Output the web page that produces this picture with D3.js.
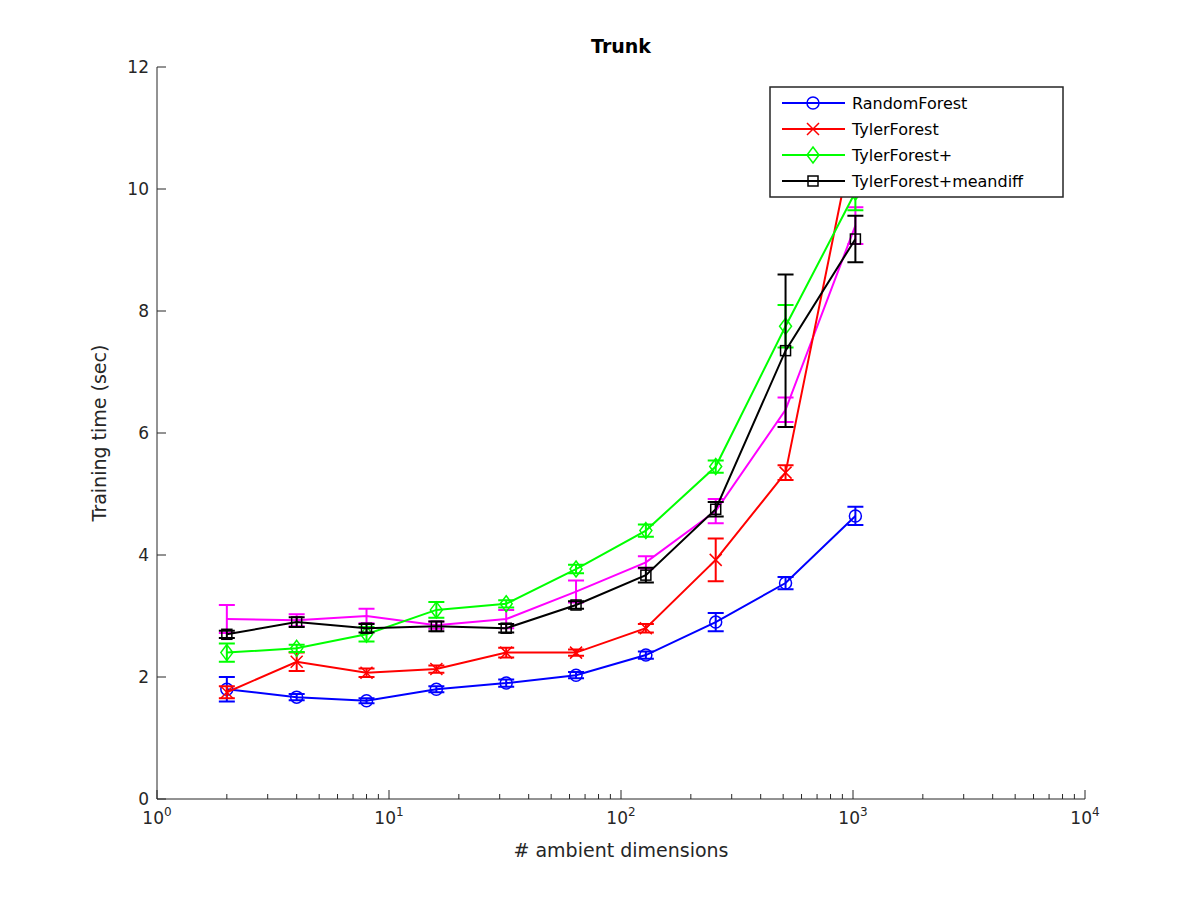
<!DOCTYPE html><html><head><meta charset="utf-8"><script src="https://cdn.jsdelivr.net/npm/d3@7"></script>
<style>body{margin:0;background:#fff}text{font-family:"DejaVu Sans",sans-serif;fill:#262626}</style></head><body><svg id="c" width="1200" height="900"></svg>
<script>
const dims=[2,4,8,16,32,64,128,256,512,1024];
const rfMean=[1.80,1.67,1.61,1.80,1.90,2.03,2.36,2.90,3.54,4.64];
const rfErr=[0.2,0.05,0.04,0.05,0.06,0.05,0.06,0.15,0.1,0.15];
const tfMean=[1.75,2.25,2.07,2.13,2.40,2.40,2.80,3.92,5.35,11.0];
const tfErr=[0.1,0.15,0.07,0.06,0.08,0.05,0.07,0.35,0.12,0.4];
const tfpMean=[2.40,2.47,2.70,3.10,3.20,3.77,4.40,5.45,7.75,9.95];
const tfpErr=[0.15,0.06,0.12,0.13,0.06,0.07,0.1,0.1,0.35,0.3];
const tfmMean=[2.70,2.90,2.80,2.83,2.80,3.18,3.67,4.75,7.35,9.18];
const tfmErr=[0.06,0.08,0.07,0.08,0.07,0.06,0.12,0.12,1.25,0.38];
const magMean=[2.95,2.93,3.00,2.85,2.95,3.40,3.88,4.72,6.38,9.40];
const magErr=[0.23,0.1,0.12,0.06,0.15,0.18,0.1,0.2,0.2,0.3];
const xTicks=[1,10,100,1000,10000];
const yTicks=[0,2,4,6,8,10,12];
const series=[
 {name:"RandomForest",color:"#0000ff",m:rfMean,e:rfErr,mk:"o"},
 {name:"TylerForest",color:"#ff0000",m:tfMean,e:tfErr,mk:"x"},
 {name:"TylerForest+",color:"#00ff00",m:tfpMean,e:tfpErr,mk:"d"},
 {name:"TylerForest+meandiff",color:"#000000",m:tfmMean,e:tfmErr,mk:"s"},
 {name:null,color:"#ff00ff",m:magMean,e:magErr,mk:null}];
const L=157,R=1085,T=67,B=799;
const svg=d3.select("#c");
const x=d3.scaleLog().domain([1,10000]).range([L,R]);
const y=d3.scaleLinear().domain([0,12]).range([B,T]);
svg.append("defs").append("clipPath").attr("id","clp").append("rect").attr("x",L).attr("y",T).attr("width",R-L).attr("height",B-T);
// axes
const ax=svg.append("g").attr("stroke","#262626").attr("stroke-width",1);
ax.append("line").attr("x1",L).attr("x2",R).attr("y1",B).attr("y2",B);
ax.append("line").attr("x1",L).attr("x2",L).attr("y1",T).attr("y2",B);
for(let d=1;d<10000;d*=10)for(let k=1;k<10;k++){const v=d*k;const len=k==1?9:5;
 ax.append("line").attr("x1",x(v)).attr("x2",x(v)).attr("y1",B).attr("y2",B-len);}
ax.append("line").attr("x1",R).attr("x2",R).attr("y1",B).attr("y2",B-9);
yTicks.forEach(t=>ax.append("line").attr("x1",L).attr("x2",L+9).attr("y1",y(t)).attr("y2",y(t)));
yTicks.forEach(t=>svg.append("text").attr("x",L-8).attr("y",y(t)+6).attr("text-anchor","end").attr("font-size",17).text(t));
xTicks.forEach(t=>{const e=Math.round(Math.log10(t));const g=svg.append("text").attr("x",x(t)).attr("y",B+25).attr("text-anchor","middle").attr("font-size",17);
 g.append("tspan").text("10");g.append("tspan").attr("dy",-8).attr("font-size",12).text(e);});
svg.append("text").attr("x",(L+R)/2).attr("y",B+58).attr("text-anchor","middle").attr("font-size",19).text("# ambient dimensions");
svg.append("text").attr("transform",`translate(106,${(T+B)/2}) rotate(-90)`).attr("text-anchor","middle").attr("font-size",19).text("Training time (sec)");
svg.append("text").attr("x",(L+R)/2).attr("y",53).attr("text-anchor","middle").attr("font-size",19).attr("font-weight","bold").style("fill","#000").text("Trunk");
function marker(g,mk,cx,cy,c){const r=6;
 if(mk=="o")g.append("circle").attr("cx",cx).attr("cy",cy).attr("r",r).attr("fill","none").attr("stroke",c).attr("stroke-width",1.5);
 if(mk=="x")g.append("path").attr("d",`M${cx-r},${cy-r}L${cx+r},${cy+r}M${cx-r},${cy+r}L${cx+r},${cy-r}`).attr("stroke",c).attr("stroke-width",1.5);
 if(mk=="d")g.append("path").attr("d",`M${cx},${cy-8}L${cx+6},${cy}L${cx},${cy+8}L${cx-6},${cy}Z`).attr("fill","none").attr("stroke",c).attr("stroke-width",1.5);
 if(mk=="s")g.append("rect").attr("x",cx-5).attr("y",cy-5).attr("width",10).attr("height",10).attr("fill","none").attr("stroke",c).attr("stroke-width",1.5);}
const pg=svg.append("g").attr("clip-path","url(#clp)");
const order=[4,0,1,2,3];
order.forEach(i=>{const s=series[i];const g=pg.append("g");
 g.append("path").attr("d",d3.line().x((d,j)=>x(dims[j])).y(d=>y(d))(s.m)).attr("fill","none").attr("stroke",s.color).attr("stroke-width",2);
 s.m.forEach((v,j)=>{const cx=x(dims[j]),y1=y(v-s.e[j]),y2=y(v+s.e[j]);
  g.append("path").attr("d",`M${cx},${y1}L${cx},${y2}M${cx-8},${y1}L${cx+8},${y1}M${cx-8},${y2}L${cx+8},${y2}`).attr("stroke",s.color).attr("stroke-width",2).attr("fill","none");
  if(s.mk)marker(g,s.mk,cx,y(v),s.color);});});
// legend
const lg=svg.append("g");
lg.append("rect").attr("x",770).attr("y",87).attr("width",293).attr("height",110).attr("fill","#fff").attr("stroke","#262626").attr("stroke-width",1.5);
series.filter(s=>s.name).forEach((s,i)=>{const yy=103+i*26;
 lg.append("line").attr("x1",782).attr("x2",845).attr("y1",yy).attr("y2",yy).attr("stroke",s.color).attr("stroke-width",2);
 marker(lg,s.mk,813,yy,s.color);
 lg.append("text").attr("x",852).attr("y",yy+6).attr("font-size",16).style("fill","#000").text(s.name);});
</script></body></html>
